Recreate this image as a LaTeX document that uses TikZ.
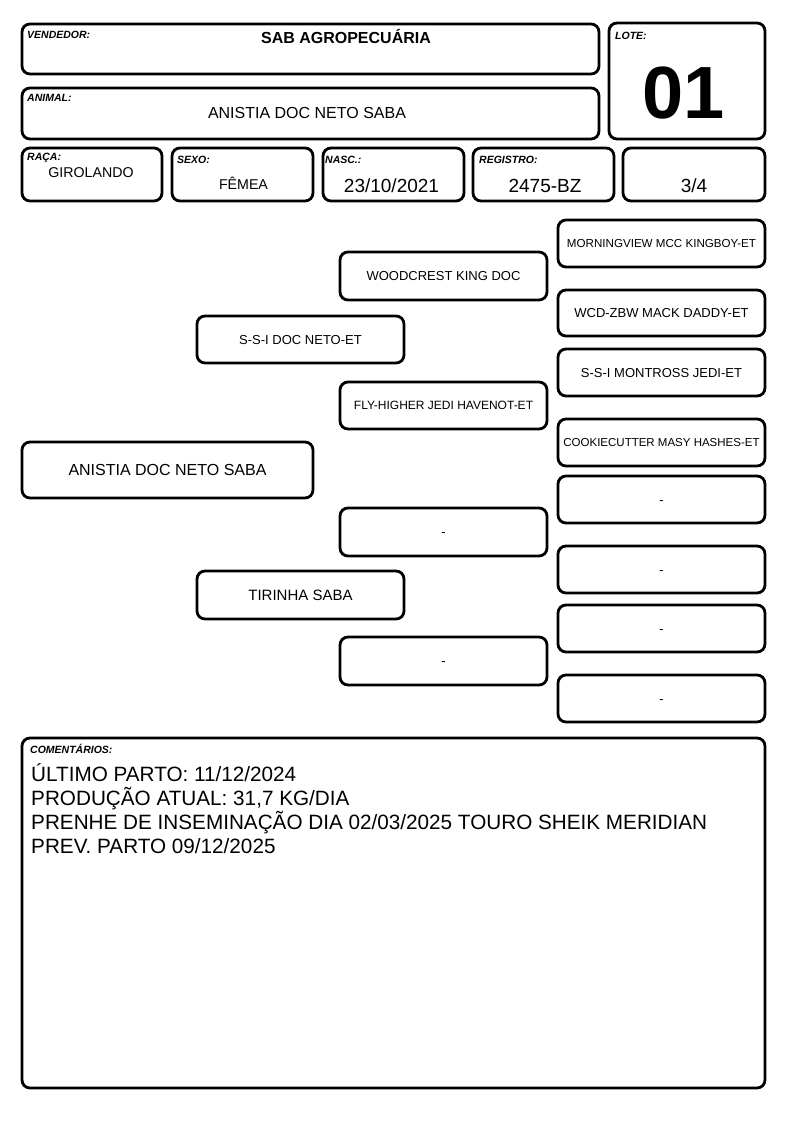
\documentclass[tikz,border=0pt]{standalone}
\usepackage{fontspec}
\setmainfont{Liberation Sans}
\newcommand\bx[7]{\node[box, minimum width={(#4)-(#2)}, minimum height={(#5)-(#3)}, fs={#6}] (#1) at ({((#2)+(#4))/2},{((#3)+(#5))/2}) {#7};}
\begin{document}
\begin{tikzpicture}[x=1pt,y=-1pt,
  fs/.style={font=\fontsize{#1}{#1}\selectfont, text height={0.716*(#1)}, text depth=0pt},
  box/.style={draw, line width=2.8pt, rounded corners=8pt, inner sep=0pt, outer sep=0pt, align=center},
  lbl/.style={font=\fontsize{10.5}{12}\selectfont\bfseries\itshape, anchor=base west, inner sep=0pt},
  val/.style={inner sep=0pt, anchor=center},
  cline/.style={font=\fontsize{20.7}{24}\selectfont, anchor=base west, inner sep=0pt}]
\useasboundingbox (0,0) rectangle (794,1123);
\fill[white] (0,0) rectangle (794,1123);
% header boxes
\bx{vend}{22}{24}{599}{74}{16}{}
\bx{anim}{22}{88}{599}{139}{16}{}
\bx{lote}{609}{23}{765}{139}{16}{}
\bx{raca}{22}{148}{162}{201}{14}{}
\bx{sexo}{172}{148}{313}{201}{14}{}
\bx{nasc}{323}{148}{464}{201}{18}{}
\bx{reg}{473}{148}{614}{201}{18}{}
\bx{frac}{623}{148}{765}{201}{18}{}
% labels
\node[lbl] (lvend) at (27,39) {VENDEDOR:};
\node[lbl] (lanim) at (27,102) {ANIMAL:};
\node[lbl] (llote) at (615,40) {LOTE:};
\node[lbl] (lraca) at (27,161) {RAÇA:};
\node[lbl] (lsexo) at (177,164) {SEXO:};
\node[lbl] (lnasc) at (325,164) {NASC.:};
\node[lbl] (lreg) at (479,164) {REGISTRO:};
% values
\node[val, fs=16, font=\fontsize{16}{16}\selectfont\bfseries] (tvend) at (346,38) {SAB AGROPECUÁRIA};
\node[val, fs=16] (tanim) at (307,113) {ANISTIA DOC NETO SABA};
\node[val, fs=74, font=\fontsize{74}{74}\selectfont\bfseries] (tlote) at (684,92) {01};
\node[val, fs=14.2] (traca) at (91,172) {GIROLANDO};
\node[val, fs=14.2] (tsexo) at (243.5,184) {FÊMEA};
\node[val, fs=19] (tnasc) at (391.5,186) {23/10/2021};
\node[val, fs=19] (treg) at (545,186) {2475-BZ};
\node[val, fs=19] (tfrac) at (694,186) {3/4};
% pedigree
\bx{p0}{22}{442}{313}{498}{16}{ANISTIA DOC NETO SABA}
\bx{s}{197}{316}{404}{363}{13}{S-S-I DOC NETO-ET}
\bx{d}{197}{571}{404}{619}{15}{TIRINHA SABA}
\bx{ss}{340}{252}{547}{300}{13}{WOODCREST KING DOC}
\bx{sd}{340}{382}{547}{429}{12}{FLY-HIGHER JEDI HAVENOT-ET}
\bx{ds}{340}{508}{547}{556}{13}{-}
\bx{dd}{340}{637}{547}{685}{13}{-}
\bx{sss}{558}{220}{765}{267}{11.6}{MORNINGVIEW MCC KINGBOY-ET}
\bx{ssd}{558}{290}{765}{336}{13}{WCD-ZBW MACK DADDY-ET}
\bx{sds}{558}{349}{765}{396}{13}{S-S-I MONTROSS JEDI-ET}
\bx{sdd}{558}{419}{765}{466}{11.5}{COOKIECUTTER MASY HASHES-ET}
\bx{dss}{558}{476}{765}{523}{13}{-}
\bx{dsd}{558}{546}{765}{593}{13}{-}
\bx{dds}{558}{605}{765}{652}{13}{-}
\bx{ddd}{558}{675}{765}{722}{13}{-}
% comments
\bx{com}{22}{738}{765}{1088}{16}{}
\node[lbl] (lcom) at (30,753) {COMENTÁRIOS:};
\node[cline] (c1) at (31,781) {ÚLTIMO PARTO: 11/12/2024};
\node[cline] (c2) at (31,805) {PRODUÇÃO ATUAL: 31,7 KG/DIA};
\node[cline] (c3) at (31,829) {PRENHE DE INSEMINAÇÃO DIA 02/03/2025 TOURO SHEIK MERIDIAN};
\node[cline] (c4) at (31,853) {PREV. PARTO 09/12/2025};
\end{tikzpicture}
\end{document}
